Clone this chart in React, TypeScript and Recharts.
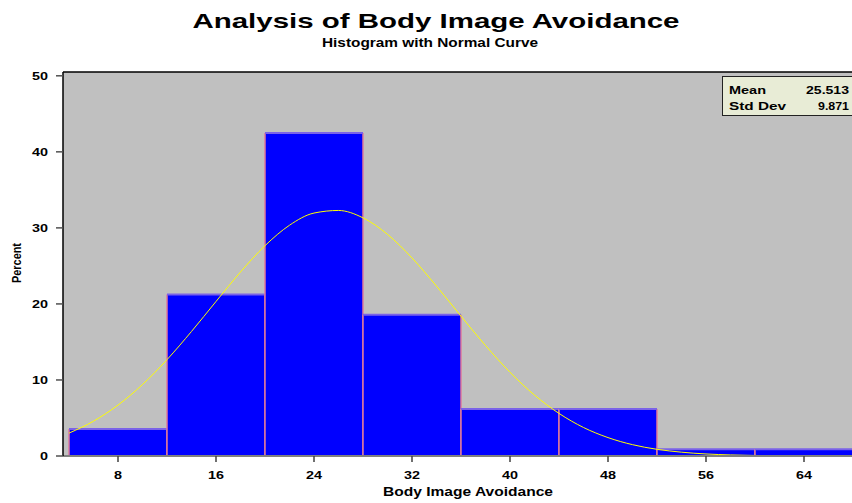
import React from "react";
import {
  ComposedChart,
  Line,
  XAxis,
  YAxis,
  CartesianGrid,
  ReferenceArea,
  ReferenceLine,
} from "recharts";

// Histogram bins (lower edge, width 8) and the percent of observations in each
const binStarts = [4, 12, 20, 28, 36, 44, 52, 60];
const binWidth = 8;
const binPercents = [3.54, 21.24, 42.48, 18.58, 6.19, 6.19, 0.88, 0.88];

// Fitted normal curve, sampled every 2 units
const curveX = [4, 6, 8, 10, 12, 14, 16, 18, 20, 22, 24, 26, 28, 30, 32, 34, 36, 38, 40, 42, 44, 46, 48, 50, 52, 54, 56, 58, 60, 62, 64, 66, 68];
const curvePercent = [3.01, 4.58, 6.7, 9.4, 12.67, 16.38, 20.32, 24.2, 27.66, 30.35, 31.95, 32.29, 31.32, 29.15, 26.05, 22.34, 18.39, 14.53, 11.01, 8.01, 5.6, 3.75, 2.42, 1.49, 0.88, 0.5, 0.27, 0.14, 0.07, 0.03, 0.01, 0.005, 0.002];

const xTicks = [8, 16, 24, 32, 40, 48, 56, 64];
const yTicks = [0, 10, 20, 30, 40, 50];

const meanLabel = "25.513";
const stdLabel = "9.871";

const curveData = curveX.map((x, i) => ({ x, pct: curvePercent[i] }));

const FONT = "'Liberation Sans', Arial, Helvetica, sans-serif";
const X_MIN = 3.51;
const X_MAX = 68;
const Y_MAX = 50.5;
const DIGIT_W = 8;

const BinShape = (props: any) => {
  const { x, y, width, height } = props;
  if (width == null || height == null) return null;
  return (
    <g>
      <rect x={x} y={y} width={width} height={height} fill="#0000ff" />
      <line x1={x} y1={y} x2={x} y2={y + height} stroke="#e07a9a" strokeWidth={1.5} />
      <line x1={x + width} y1={y} x2={x + width} y2={y + height} stroke="#e07a9a" strokeWidth={1.5} />
      <line x1={x} y1={y} x2={x + width} y2={y} stroke="#7a62e8" strokeWidth={2} />
    </g>
  );
};

// Wide, bold tick labels
const XTick = (props: any) => {
  const { x, y, payload } = props;
  const s = String(payload.value);
  return (
    <text
      x={x}
      y={y + 10}
      textAnchor="middle"
      fontFamily={FONT}
      fontWeight={700}
      fontSize={11}
      fill="#000"
      textLength={DIGIT_W * s.length}
      lengthAdjust="spacingAndGlyphs"
    >
      {s}
    </text>
  );
};

const YTick = (props: any) => {
  const { x, y, payload } = props;
  const s = String(payload.value);
  return (
    <text
      x={x}
      y={y + 4}
      textAnchor="end"
      fontFamily={FONT}
      fontWeight={700}
      fontSize={11.5}
      fill="#000"
      textLength={DIGIT_W * s.length}
      lengthAdjust="spacingAndGlyphs"
    >
      {s}
    </text>
  );
};

export default function App() {
  return (
    <div
      style={{
        position: "absolute",
        left: 0,
        top: 0,
        width: 852,
        height: 503,
        overflow: "hidden",
        background: "#ffffff",
      }}
    >
      <ComposedChart
        width={853}
        height={503}
        data={curveData}
        margin={{ top: 72, right: 0, bottom: 0, left: 0 }}
      >
        <CartesianGrid fill="#c0c0c0" horizontal={false} vertical={false} stroke="none" />
        <XAxis
          type="number"
          dataKey="x"
          domain={[X_MIN, X_MAX]}
          allowDataOverflow
          ticks={xTicks}
          height={47}
          tickSize={6}
          tickMargin={7}
          axisLine={{ stroke: "#808080", strokeWidth: 2 }}
          tickLine={{ stroke: "#404040", strokeWidth: 1.5 }}
          tick={<XTick />}
        />
        <YAxis
          type="number"
          domain={[0, Y_MAX]}
          allowDataOverflow
          ticks={yTicks}
          width={63}
          tickSize={7}
          tickMargin={8}
          axisLine={{ stroke: "#000000", strokeWidth: 1.5 }}
          tickLine={{ stroke: "#505050", strokeWidth: 1.5 }}
          tick={<YTick />}
        />
        <ReferenceLine y={Y_MAX} stroke="#000" strokeWidth={1.5} ifOverflow="visible" />
        {binStarts.map((s, i) => (
          <ReferenceArea
            key={s}
            x1={s}
            x2={s + binWidth}
            y1={0}
            y2={binPercents[i]}
            ifOverflow="visible"
            shape={BinShape}
          />
        ))}
        <Line
          type="monotone"
          dataKey="pct"
          stroke="#ffff00"
          strokeWidth={1}
          dot={false}
          activeDot={false}
          isAnimationActive={false}
        />
      </ComposedChart>
      <svg
        width={852}
        height={503}
        style={{ position: "absolute", left: 0, top: 0, pointerEvents: "none" }}
      >
        <text
          x={436}
          y={28}
          textAnchor="middle"
          fontFamily={FONT}
          fontWeight={700}
          fontSize={21}
          textLength={487}
          lengthAdjust="spacingAndGlyphs"
        >
          Analysis of Body Image Avoidance
        </text>
        <text
          x={430}
          y={47}
          textAnchor="middle"
          fontFamily={FONT}
          fontWeight={700}
          fontSize={12}
          textLength={216}
          lengthAdjust="spacingAndGlyphs"
        >
          Histogram with Normal Curve
        </text>
        <text
          x={468}
          y={496}
          textAnchor="middle"
          fontFamily={FONT}
          fontWeight={700}
          fontSize={12}
          textLength={170}
          lengthAdjust="spacingAndGlyphs"
        >
          Body Image Avoidance
        </text>
        <text
          transform="translate(21,263) rotate(-90)"
          textAnchor="middle"
          fontFamily={FONT}
          fontWeight={700}
          fontSize={12}
          textLength={40}
          lengthAdjust="spacingAndGlyphs"
        >
          Percent
        </text>
        <rect x={722.5} y={76.5} width={130} height={39} fill="#e8ecd6" stroke="#222" strokeWidth={1} />
        <text x={729} y={94} fontFamily={FONT} fontWeight={700} fontSize={11.5} textLength={37} lengthAdjust="spacingAndGlyphs">
          Mean
        </text>
        <text x={849} y={94} textAnchor="end" fontFamily={FONT} fontWeight={700} fontSize={11.5} textLength={43} lengthAdjust="spacingAndGlyphs">
          {meanLabel}
        </text>
        <text x={729} y={109.5} fontFamily={FONT} fontWeight={700} fontSize={11.5} textLength={57} lengthAdjust="spacingAndGlyphs">
          Std Dev
        </text>
        <text x={849} y={109.5} textAnchor="end" fontFamily={FONT} fontWeight={700} fontSize={11.5} textLength={31} lengthAdjust="spacingAndGlyphs">
          {stdLabel}
        </text>
      </svg>
    </div>
  );
}
